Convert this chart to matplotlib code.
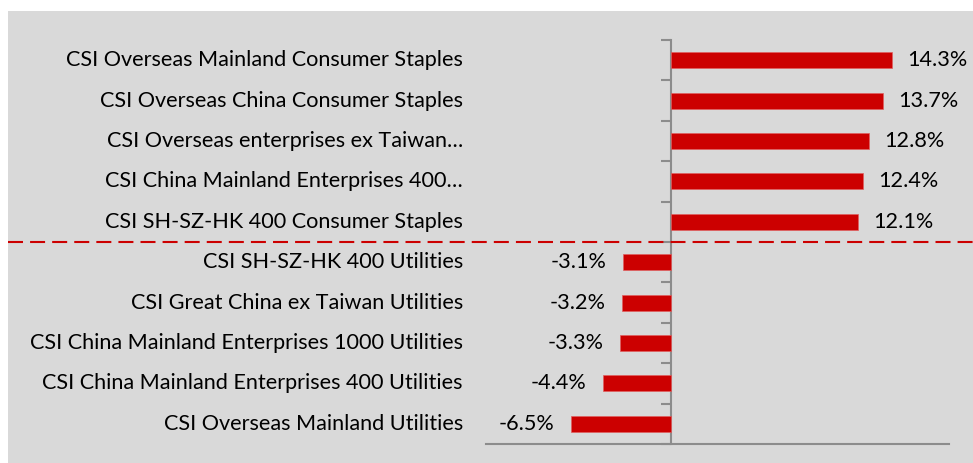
import matplotlib.pyplot as plt
import matplotlib.transforms as mtransforms
from matplotlib.patches import Rectangle
from matplotlib.lines import Line2D

# Данные
categories = [
    "CSI Overseas Mainland Consumer Staples",
    "CSI Overseas China Consumer Staples",
    "CSI Overseas enterprises ex Taiwan…",
    "CSI China Mainland Enterprises 400…",
    "CSI SH-SZ-HK 400 Consumer Staples",
    "CSI SH-SZ-HK 400 Utilities",
    "CSI Great China ex Taiwan Utilities",
    "CSI China Mainland Enterprises 1000 Utilities",
    "CSI China Mainland Enterprises 400 Utilities",
    "CSI Overseas Mainland Utilities",
]
values = [14.3, 13.7, 12.8, 12.4, 12.1, -3.1, -3.2, -3.3, -4.4, -6.5]
value_labels = ["14.3%", "13.7%", "12.8%", "12.4%", "12.1%",
                "-3.1%", "-3.2%", "-3.3%", "-4.4%", "-6.5%"]

plt.rcParams['font.family'] = ['Lato', 'DejaVu Sans']
grey = "#D9D9D9"
red = "#CC0000"
axis_col = "#8C8C8C"
fs = 15.6

fig = plt.figure(figsize=(9.73, 4.63), dpi=100, facecolor="white")
fig.add_artist(Rectangle((8 / 973, 0), 1, 1 - 11 / 463, transform=fig.transFigure,
                         facecolor=grey, edgecolor="none", zorder=0))

ax = fig.add_axes([486 / 973, 1 - 444 / 463, (949 - 486) / 973, (444 - 40) / 463])
ax.set_facecolor("none")

y = list(range(len(categories)))
ax.barh(y, values, height=0.4, color=red, edgecolor="#E06060", linewidth=0.5, zorder=3)
ax.set_xlim(-12, 18)
ax.set_ylim(len(categories) - 0.5, -0.5)

# Оси
for s in ["top", "right"]:
    ax.spines[s].set_visible(False)
ax.spines["bottom"].set_color(axis_col)
ax.spines["bottom"].set_linewidth(1.5)
ax.spines["left"].set_position(("data", 0))
ax.spines["left"].set_color(axis_col)
ax.spines["left"].set_linewidth(1.5)
ax.set_xticks([])
ax.set_yticks([i - 0.5 for i in range(len(categories) + 1)])
ax.set_yticklabels([])
ax.tick_params(axis="y", length=7, width=1.5, color=axis_col, direction="out")

# Подписи категорий
for i, c in enumerate(categories):
    ax.text(-0.05, i, c, transform=ax.get_yaxis_transform(), ha="right", va="center",
            fontsize=fs, color="black")

# Подписи значений
for i, (v, lab) in enumerate(zip(values, value_labels)):
    if v >= 0:
        ax.annotate(lab, (v, i), xytext=(11, 0), textcoords="offset points",
                    ha="left", va="center", fontsize=fs)
    else:
        ax.annotate(lab, (v, i), xytext=(-12, 0), textcoords="offset points",
                    ha="right", va="center", fontsize=fs)

# Разделительная линия
blend = mtransforms.blended_transform_factory(fig.transFigure, ax.transData)
fig.add_artist(Line2D([8 / 973, 1], [4.5, 4.5], transform=blend, color=red,
                      linewidth=1.5, linestyle=(0, (7.2, 3.4)), zorder=4))

fig.savefig("out.png", dpi=100, facecolor="white")
